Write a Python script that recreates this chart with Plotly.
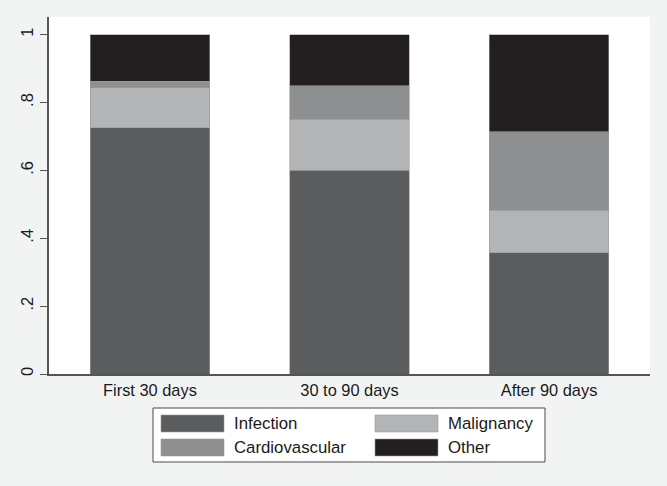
import plotly.graph_objects as go

categories = ["First 30 days", "30 to 90 days", "After 90 days"]
infection = [0.725, 0.600, 0.357]
malignancy = [0.118, 0.150, 0.125]
cardiovascular = [0.020, 0.100, 0.232]
other = [0.137, 0.150, 0.286]

series_names = ["Infection", "Malignancy", "Cardiovascular", "Other"]
series_values = [infection, malignancy, cardiovascular, other]
series_colors = ["#5b5c5e", "#b3b4b5", "#8e8f90", "#231f20"]
y_ticks = [0, 0.2, 0.4, 0.6, 0.8, 1]
y_tick_labels = ["0", ".2", ".4", ".6", ".8", "1"]

W, H = 667, 486
ML, MR, MT, MB = 49, 17, 17, 112
PW, PH = W - ML - MR, H - MT - MB

def px_x(x):
    return (x - ML) / PW

def px_y(y):
    return (H - MB - y) / PH

fig = go.Figure()
for name, vals, col in zip(series_names, series_values, series_colors):
    fig.add_trace(go.Bar(
        x=categories, y=vals, name=name,
        marker=dict(color=col, line=dict(color="#9a9b9c", width=0.6)),
        width=0.6, showlegend=False,
    ))

# custom legend (two columns, wide swatches)
shapes = [dict(type="rect", xref="paper", yref="paper",
               x0=px_x(153), x1=px_x(545), y0=px_y(462), y1=px_y(408),
               fillcolor="white", line=dict(color="#4a4a4a", width=1))]
annotations = []
col_x = [161, 375]
row_y = [415, 439]
for i, (name, col) in enumerate(zip(series_names, series_colors)):
    cx = col_x[i % 2]
    ry = row_y[i // 2]
    shapes.append(dict(type="rect", xref="paper", yref="paper",
                       x0=px_x(cx), x1=px_x(cx + 63), y0=px_y(ry + 17), y1=px_y(ry),
                       fillcolor=col, line=dict(color="#9a9b9c", width=0.6)))
    annotations.append(dict(xref="paper", yref="paper", x=px_x(cx + 71), y=px_y(ry + 8.5),
                            text=name, showarrow=False, xanchor="left", yanchor="middle",
                            font=dict(size=16.8, color="#1a1a1a")))

fig.update_layout(
    width=W, height=H,
    margin=dict(l=ML, r=MR, t=MT, b=MB),
    barmode="stack", bargap=0.4,
    paper_bgcolor="#f2f4f3", plot_bgcolor="white",
    font=dict(family="Liberation Sans, Arial, sans-serif", color="#1a1a1a"),
    shapes=shapes, annotations=annotations,
    showlegend=False,
)
fig.update_xaxes(
    range=[-0.506, 2.506], showline=True, linecolor="#555555", linewidth=1.5,
    ticks="", showgrid=False, tickfont=dict(size=16.4), ticklabelstandoff=1,
)
fig.update_yaxes(
    range=[0, 1.052], tickvals=y_ticks, ticktext=y_tick_labels, tickangle=-90,
    showline=True, linecolor="#555555", linewidth=1.5, ticks="outside",
    ticklen=7, tickcolor="#555555", tickwidth=1, showgrid=False, zeroline=False,
    tickfont=dict(size=16.4), ticklabelstandoff=1,
)
fig.write_html("out.html", config={"displayModeBar": False},
               post_script="document.body.style.margin='0';")
